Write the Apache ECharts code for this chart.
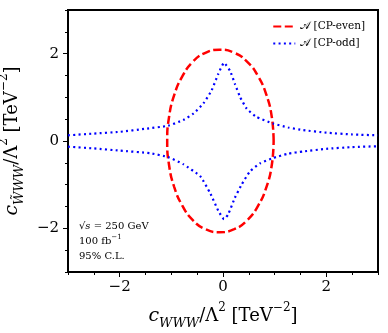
<!DOCTYPE html>
<html>
<head>
<meta charset="utf-8">
<script src="https://cdn.jsdelivr.net/npm/echarts@6/dist/echarts.min.js"></script>
<style>
  html, body { margin: 0; padding: 0; background: #fff; }
  #main { width: 388px; height: 333px; }
</style>
</head>
<body>
<div id="main"></div>
<script>
// CP-even ellipse, points
var evenX = [0.98, 0.945, 0.842, 0.678, 0.465, 0.217, -0.07, -0.34, -0.58, -0.785, -0.945, -1.045, -1.08,
             -1.045, -0.945, -0.785, -0.58, -0.34, -0.07, 0.217, 0.465, 0.678, 0.842, 0.945, 0.98];
var evenY = [0, 0.544, 1.05, 1.485, 1.819, 2.02, 2.09, 2.02, 1.819, 1.485, 1.05, 0.544, 0,
             -0.544, -1.05, -1.485, -1.819, -2.02, -2.09, -2.02, -1.819, -1.485, -1.05, -0.544, 0];

// CP-odd, upper and lower branch
var oddUpX = [-3, -2.5, -2, -1.5, -1.06, -0.77, -0.57, -0.38, -0.22, -0.09, 0.02, 0.135, 0.23, 0.33, 0.46, 0.65, 0.97, 1.26, 1.55, 2, 2.5, 3];
var oddUpY = [0.13, 0.17, 0.21, 0.28, 0.35, 0.48, 0.63, 0.86, 1.16, 1.54, 1.79, 1.61, 1.31, 1.01, 0.74, 0.55, 0.40, 0.31, 0.25, 0.19, 0.15, 0.13];
var oddLoX = [-3, -2.5, -2, -1.41, -1.06, -0.77, -0.44, -0.25, -0.09, 0.02, 0.1, 0.23, 0.36, 0.52, 0.72, 0.97, 1.26, 1.55, 2, 2.5, 3];
var oddLoY = [-0.13, -0.17, -0.22, -0.28, -0.37, -0.53, -0.81, -1.19, -1.6, -1.79, -1.68, -1.3, -1.0, -0.7, -0.51, -0.39, -0.29, -0.24, -0.18, -0.14, -0.12];

var majorTicks = [-2, 0, 2];

function pairs(xs, ys) {
    return xs.map(function (x, i) { return [x, ys[i]]; });
}
function minus(v) { return String(v).replace('-', '−'); }

var myChart = echarts.init(document.getElementById('main'));
var serif = 'DejaVu Serif';
var mathRich = {
    i: { fontFamily: serif, fontStyle: 'italic', fontSize: 19, color: '#000' },
    sub: { fontFamily: serif, fontStyle: 'italic', fontSize: 13, color: '#000', verticalAlign: 'bottom', lineHeight: 28 },
    r: { fontFamily: serif, fontSize: 18, color: '#000' },
    sup: { fontFamily: serif, fontSize: 12, color: '#000', verticalAlign: 'top', lineHeight: 28 }
};

var tickLabel = { fontFamily: serif, fontSize: 15, color: '#000' };
var tickLine = { color: '#000', width: 1 };

var option = {
    backgroundColor: '#fff',
    animation: false,
    grid: { left: 68, right: 10, top: 10, bottom: 61, show: true, borderColor: '#000', borderWidth: 2,
            containLabel: false, outerBoundsMode: 'none' },
    legend: {
        right: 18,
        top: 16,
        orient: 'vertical',
        itemWidth: 22,
        itemHeight: 10,
        itemGap: 6,
        itemStyle: { opacity: 0, borderWidth: 0 },
        data: ['𝒜 [CP-even]', '𝒜 [CP-odd]'],
        textStyle: { fontFamily: serif, fontSize: 10.5, color: '#000' }
    },
    xAxis: [
        {
            type: 'value', min: -3, max: 3, interval: 0.5,
            axisLine: { show: false, onZero: false },
            splitLine: { show: false },
            axisTick: { show: true, customValues: majorTicks, length: 5, lineStyle: tickLine },
            axisLabel: Object.assign({ customValues: majorTicks, margin: 8, formatter: minus }, tickLabel),
            name: '{i|c}{sub|WWW}{r|/Λ}{sup|2}{r| [TeV}{sup|−2}{r|]}',
            nameLocation: 'middle',
            nameGap: 30,
            nameTextStyle: { rich: mathRich }
        },
        {
            type: 'value', min: -3, max: 3, interval: 0.5, gridIndex: 0, position: 'bottom',
            axisLine: { show: false, onZero: false }, splitLine: { show: false }, axisLabel: { show: false },
            axisTick: { show: true, length: 3, lineStyle: tickLine }
        }
    ],
    yAxis: [
        {
            type: 'value', min: -3, max: 3, interval: 0.5,
            axisLine: { show: false, onZero: false },
            splitLine: { show: false },
            axisTick: { show: true, customValues: majorTicks, length: 5, lineStyle: tickLine },
            axisLabel: Object.assign({ customValues: majorTicks, margin: 9, formatter: minus }, tickLabel),
            name: '{i|c}{sub|W̃WW}{r|/Λ}{sup|2}{r| [TeV}{sup|−2}{r|]}',
            nameLocation: 'middle',
            nameRotate: 90,
            nameGap: 34,
            nameTextStyle: { rich: mathRich }
        },
        {
            type: 'value', min: -3, max: 3, interval: 0.5, gridIndex: 0, position: 'left',
            axisLine: { show: false, onZero: false }, splitLine: { show: false }, axisLabel: { show: false },
            axisTick: { show: true, length: 3, lineStyle: tickLine }
        }
    ],
    graphic: [
        {
            type: 'text', left: 79, top: 221,
            style: {
                text: '{r|√}{o|s}{r| = 250 GeV}\n{r|100 fb}{p|−1}\n{r|95% C.L.}',
                rich: {
                    r: { fontFamily: serif, fontSize: 10, color: '#000', lineHeight: 15 },
                    o: { fontFamily: serif, fontStyle: 'italic', fontSize: 10, color: '#000', lineHeight: 15 },
                    p: { fontFamily: serif, fontSize: 7, color: '#000', verticalAlign: 'top', lineHeight: 15 }
                }
            }
        }
    ],
    series: [
        {
            name: '𝒜 [CP-even]',
            type: 'line',
            data: pairs(evenX, evenY),
            showSymbol: false,
            symbol: 'none',
            smooth: true,
            color: '#ff0000',
            lineStyle: { color: '#ff0000', width: 2.5, type: [8, 3.5] }
        },
        {
            name: '𝒜 [CP-odd]',
            type: 'line',
            data: pairs(oddUpX, oddUpY),
            showSymbol: false,
            symbol: 'none',
            smooth: 0.15,
            color: '#0000ff',
            lineStyle: { color: '#0000ff', width: 2.2, type: [2, 3.3] }
        },
        {
            name: '𝒜 [CP-odd]',
            type: 'line',
            data: pairs(oddLoX, oddLoY),
            showSymbol: false,
            symbol: 'none',
            smooth: 0.15,
            color: '#0000ff',
            lineStyle: { color: '#0000ff', width: 2.2, type: [2, 3.3] }
        }
    ]
};

option && myChart.setOption(option);
</script>
</body>
</html>
